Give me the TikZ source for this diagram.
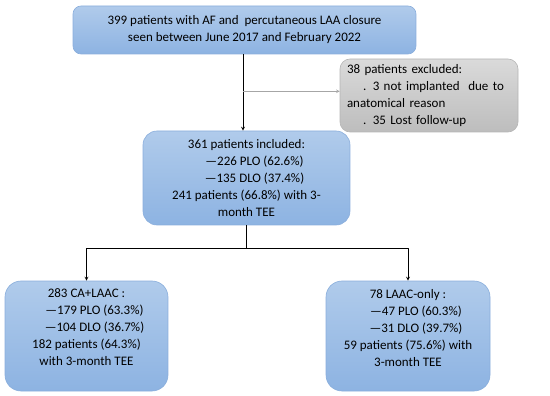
\documentclass[tikz,border=0pt]{standalone}
\usepackage{fontspec}
\setmainfont{Carlito}
\usetikzlibrary{arrows,calc}
\definecolor{boxtop}{HTML}{B0CBEB}
\definecolor{boxbot}{HTML}{8DB3E2}
\definecolor{boxline}{HTML}{8AAEDC}
\definecolor{greytop}{HTML}{DADADA}
\definecolor{greybot}{HTML}{BDBDBD}
\definecolor{greyline}{HTML}{B5B5B5}
\definecolor{greyarrow}{HTML}{A6A6A6}
\tikzset{
  bluebox/.style={draw=boxline, line width=0.6pt, top color=boxtop, bottom color=boxbot,
    rounded corners=#1, align=center, inner sep=0pt},
  bluebox/.default=14pt,
  greybox/.style={draw=greyline, line width=0.6pt, top color=greytop, bottom color=greybot,
    rounded corners=10pt, align=left, inner sep=0pt},
  flow/.style={draw=black, line width=0.8pt, ->, >=stealth}
}
\begin{document}
\begin{tikzpicture}[x=1pt, y=-1pt, font=\fontsize{13}{17}\selectfont, line join=round]
  \useasboundingbox (0,0) rectangle (550,396);
  % boxes
  \node[bluebox=8pt, minimum width=343pt, minimum height=48pt] (top) at (244.5,30)
    {399 patients with AF and\ \ percutaneous LAA closure\\seen between June 2017 and February 2022};
  \node[greybox, minimum width=178pt, minimum height=73pt, text width=164pt] (excl) at (429,95.5)
    {38 patients excluded:\\\hspace*{16pt}. 3 not implanted\ \ due to\\anatomical reason\\\hspace*{16pt}. 35 Lost follow-up};
  \node[bluebox, minimum width=207pt, minimum height=94pt] (incl) at (246.5,178)
    {361 patients included:\\\hspace*{16pt}—226 PLO (62.6\%)\\\hspace*{16pt}—135 DLO (37.4\%)\\241 patients (66.8\%) with 3-\\month TEE};
  \node[bluebox=16pt, minimum width=163pt, minimum height=110pt] (cala) at (86.5,336)
    {283 CA+LAAC :\\\hspace*{16pt}—179 PLO (63.3\%)\\\hspace*{16pt}—104 DLO (36.7\%)\\182 patients (64.3\%)\\with 3-month TEE\\\mbox{}};
  \node[bluebox=16pt, minimum width=164pt, minimum height=110pt] (laac) at (408,336)
    {78 LAAC-only :\\\hspace*{16pt}—47 PLO (60.3\%)\\\hspace*{16pt}—31 DLO (39.7\%)\\59 patients (75.6\%) with\\3-month TEE\\\mbox{}};
  % connectors
  \coordinate (drop) at ($(top.south)+(-1.5,0)$);
  \coordinate (split) at ($(drop)+(0,37)$);
  \draw[flow] (drop) -- (drop |- incl.north);
  \draw[flow, draw=greyarrow, line width=0.6pt] (split) -- (split -| excl.west);
  \coordinate (fork) at ($(incl.south)+(0,23)$);
  \draw[line width=0.8pt] (incl.south) -- (fork);
  \foreach \t in {cala,laac}
    \draw[flow] (fork) -| (\t.north);
\end{tikzpicture}
\end{document}
